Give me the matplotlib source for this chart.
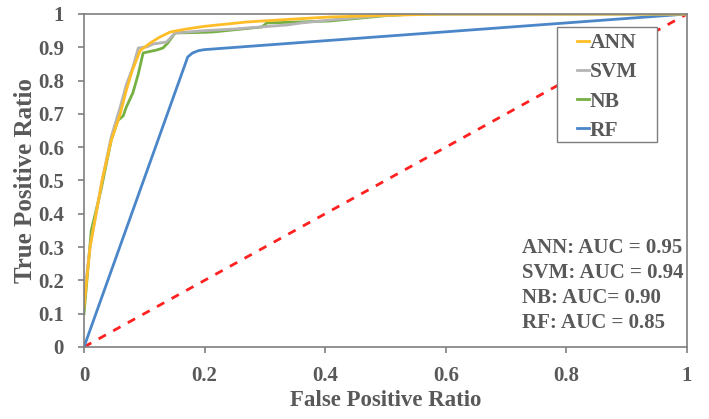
import matplotlib.pyplot as plt
from matplotlib import font_manager
from matplotlib.legend_handler import HandlerLine2D
from matplotlib.patches import Rectangle

# ROC points
ann_fpr = [0, 0.01, 0.02, 0.03, 0.045, 0.06, 0.07, 0.08, 0.093, 0.11, 0.125, 0.143, 0.17, 0.2, 0.27, 0.35, 0.408, 0.5, 0.6, 1.0]
ann_tpr = [0.12, 0.3, 0.4, 0.5, 0.62, 0.7, 0.77, 0.83, 0.89, 0.913, 0.93, 0.946, 0.955, 0.963, 0.976, 0.985, 0.991, 0.996, 1.0, 1.0]

svm_fpr = [0, 0.01, 0.03, 0.045, 0.06, 0.07, 0.081, 0.09, 0.104, 0.115, 0.137, 0.151, 0.2, 0.25, 0.3, 0.337, 0.36, 0.408, 0.49, 0.55, 1.0]
svm_tpr = [0.15, 0.3, 0.5, 0.63, 0.72, 0.787, 0.84, 0.898, 0.901, 0.91, 0.916, 0.943, 0.95, 0.955, 0.962, 0.967, 0.973, 0.982, 0.995, 1.0, 1.0]

nb_fpr = [0, 0.012, 0.028, 0.045, 0.056, 0.065, 0.07, 0.081, 0.09, 0.098, 0.121, 0.131, 0.139, 0.151, 0.2, 0.214, 0.295, 0.303, 0.408, 0.5, 0.55, 1.0]
nb_tpr = [0.1, 0.35, 0.47, 0.62, 0.68, 0.694, 0.72, 0.763, 0.82, 0.883, 0.892, 0.898, 0.913, 0.943, 0.945, 0.946, 0.961, 0.973, 0.979, 0.995, 1.0, 1.0]

rf_fpr = [0, 0.172, 0.18, 0.19, 0.2, 1.0]
rf_tpr = [0, 0.871, 0.883, 0.89, 0.893, 1.0]

auc_lines = ["ANN: AUC = 0.95", "SVM: AUC = 0.94", "NB: AUC= 0.90", "RF: AUC = 0.85"]

txt = "#595959"
edge = "#7F7F7F"


def font(size):
    return font_manager.FontProperties(family="Liberation Serif", weight="bold", size=size)


class ShortLine(HandlerLine2D):
    # legend swatch: a short dash sitting right before the label
    def get_xdata(self, legend, xdescent, ydescent, width, height, fontsize):
        x = [-xdescent, -xdescent + width]
        return x, x


fig = plt.figure(figsize=(7.09, 4.19), dpi=100)
ax = fig.add_axes([0.1185, 0.172, 0.8505, 0.7946])

lw = 2.0
ax.plot([0, 1], [0, 1], color="#FF2020", lw=2.0, ls=(0, (3, 3)), zorder=1)
ax.plot(rf_fpr, rf_tpr, color="#4A86C8", lw=lw, label="RF")
ax.plot(nb_fpr, nb_tpr, color="#76B043", lw=lw, label="NB")
ax.plot(svm_fpr, svm_tpr, color="#B4B4B4", lw=lw, label="SVM")
ax.plot(ann_fpr, ann_tpr, color="#FFBE28", lw=lw, label="ANN")

ax.set_xlim(0, 1)
ax.set_ylim(0, 1)
ax.set_xticks([0, 0.2, 0.4, 0.6, 0.8, 1])
ax.set_xticklabels(["0", "0.2", "0.4", "0.6", "0.8", "1"], fontproperties=font(15), color=txt)
ax.set_yticks([i / 10 for i in range(11)])
ax.set_yticklabels(["0"] + ["0.%d" % i for i in range(1, 10)] + ["1"], fontproperties=font(15), color=txt)
ax.tick_params(direction="out", length=4.5, width=1.2, color=edge)
ax.tick_params(axis="x", pad=9)
ax.tick_params(axis="y", pad=10)
for s in ax.spines.values():
    s.set_color(edge)
    s.set_linewidth(1.2)

ax.set_xlabel("False Positive Ratio", fontproperties=font(16.5), color=txt, labelpad=3)
ax.set_ylabel("True Positive Ratio", fontproperties=font(18), color=txt, labelpad=0.5)

# legend frame drawn separately so it can be wider than its content
ax.add_patch(Rectangle((0.784, 0.616), 0.166, 0.345, transform=ax.transAxes,
                       facecolor="white", edgecolor=edge, lw=1.0, zorder=4))
handles, labels = ax.get_legend_handles_labels()
leg = ax.legend(handles[::-1], labels[::-1], loc="upper left",
                bbox_to_anchor=(0.817, 0.943), prop=font(15.5), handlelength=0.55,
                handletextpad=0.05, labelspacing=0.43, borderpad=0, borderaxespad=0,
                frameon=False, handler_map={plt.Line2D: ShortLine()})
leg.set_zorder(5)
for t in leg.get_texts():
    t.set_color(txt)

for i, line in enumerate(auc_lines):
    ax.text(0.726, 0.283 - i * 0.0754, line, transform=ax.transAxes,
            fontproperties=font(15), color=txt, va="baseline", ha="left")

fig.savefig("out.png", dpi=100)
